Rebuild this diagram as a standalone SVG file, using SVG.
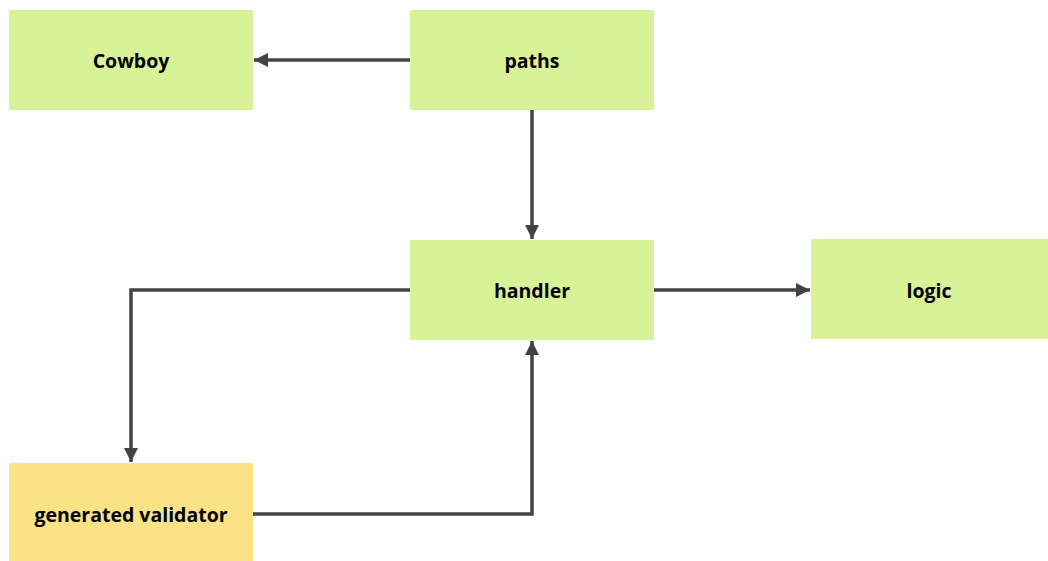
<svg xmlns="http://www.w3.org/2000/svg" width="1048" height="561" viewBox="0 0 1048 561">
  <style>
    .box { fill: #d8f297; }
    .box.gen { fill: #fbe285; }
    .label { font-family: "Open Sans", "Liberation Sans", sans-serif; font-weight: bold; font-size: 19.5px; fill: #000; text-anchor: middle; dominant-baseline: central; }
    .edge { fill: none; stroke: #434343; stroke-width: 3.5; stroke-linejoin: miter; }
  </style>
  <defs>
    <marker id="arrow" viewBox="0 0 10 10" refX="10" refY="5" markerWidth="4" markerHeight="4" orient="auto" markerUnits="strokeWidth">
      <path d="M0,0 L10,5 L0,10 z" fill="#434343"/>
    </marker>
  </defs>
  <rect width="1048" height="561" fill="#ffffff"/>

  <g id="connectors">
    <path class="edge" d="M410,60 L254,60" marker-end="url(#arrow)"/>
    <path class="edge" d="M532,110 L532,239" marker-end="url(#arrow)"/>
    <path class="edge" d="M654,290 L810,290" marker-end="url(#arrow)"/>
    <path class="edge" d="M410,290 L131,290 L131,462" marker-end="url(#arrow)"/>
    <path class="edge" d="M253,514 L532,514 L532,341" marker-end="url(#arrow)"/>
  </g>

  <g id="cowboy">
    <rect class="box" x="9" y="10" width="244" height="100"/>
    <text class="label" x="131" y="60">Cowboy</text>
  </g>
  <g id="paths">
    <rect class="box" x="410" y="10" width="244" height="100"/>
    <text class="label" x="532" y="60">paths</text>
  </g>
  <g id="handler">
    <rect class="box" x="410" y="240" width="244" height="100"/>
    <text class="label" x="532" y="290">handler</text>
  </g>
  <g id="logic">
    <rect class="box" x="811" y="239" width="237" height="100"/>
    <text class="label" x="929" y="290">logic</text>
  </g>
  <g id="generated-validator">
    <rect class="box gen" x="9" y="463" width="244" height="98"/>
    <text class="label" x="131" y="514">generated validator</text>
  </g>
</svg>
